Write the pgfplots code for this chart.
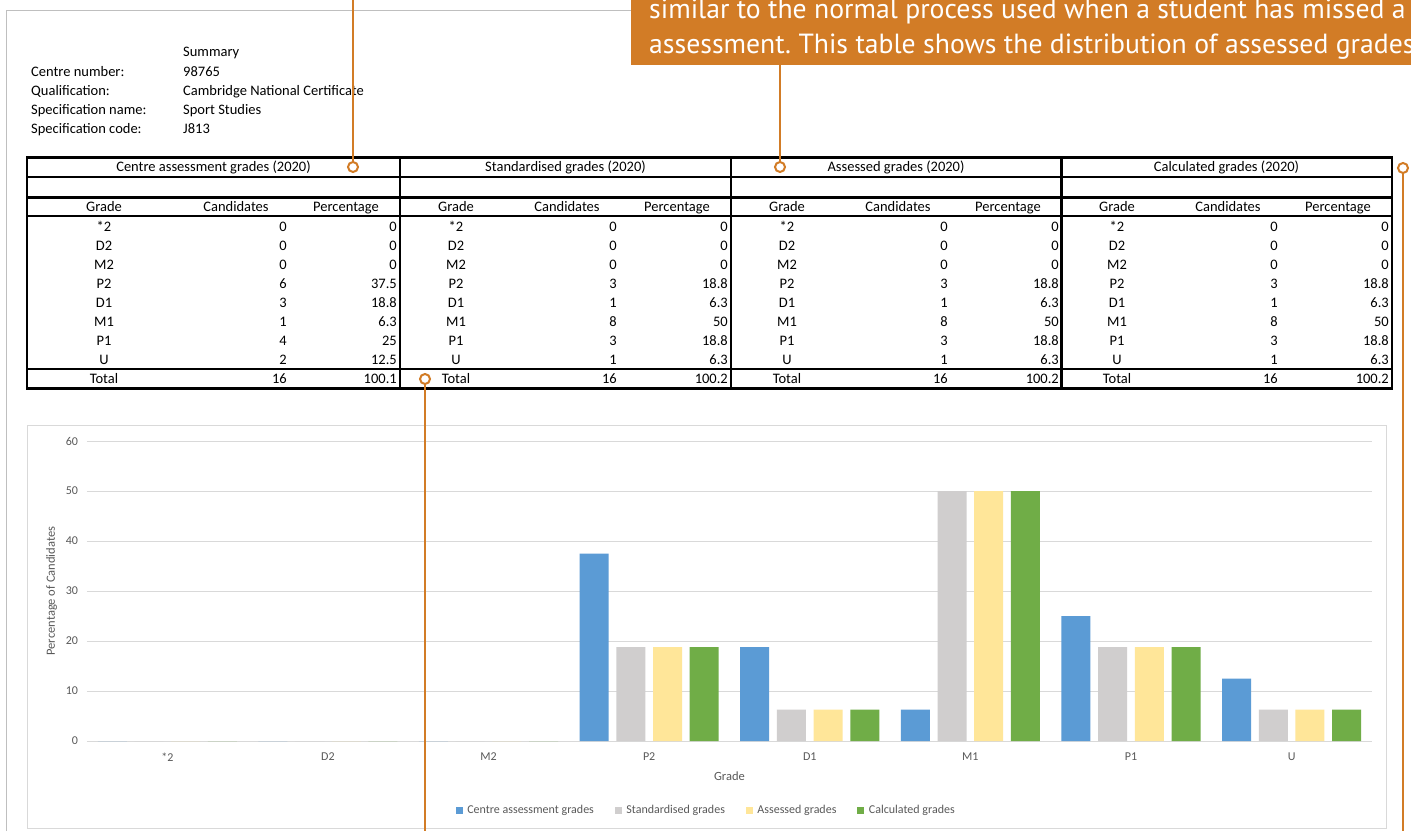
\documentclass[border=0pt]{standalone}
\usepackage{pgfplots}
\pgfplotsset{compat=1.18}
\usepackage{fontspec}
\setmainfont{Carlito}
\newfontfamily\calloutfont{PT Sans}
\definecolor{cblue}{HTML}{5B9BD5}
\definecolor{cgray}{HTML}{D0CECE}
\definecolor{cyellow}{HTML}{FFE699}
\definecolor{cgreen}{HTML}{70AD47}
\definecolor{corange}{HTML}{D27C26}
\definecolor{gridc}{HTML}{D9D9D9}
\definecolor{tickc}{HTML}{595959}
\definecolor{pageb}{HTML}{BFBFBF}
\frenchspacing

\newcommand\Row[6]{%
  \node[anchor=base] at (104,#1+4.7) {#2};
  \node[anchor=base east] at (287,#1+4.7) {#3};
  \node[anchor=base east] at (397,#1+4.7) {#4};
  \foreach \L in {400,731,1061}{%
    \node[anchor=base] at (\L+56,#1+4.7) {#2};
    \node[anchor=base east] at (\L+217,#1+4.7) {#5};
    \node[anchor=base east] at (\L+328,#1+4.7) {#6};
  }}

\begin{document}
\begin{tikzpicture}[x=1pt,y=1pt]
\clip (0,0) rectangle (1411,831);
\fill[white] (0,0) rectangle (1411,831);

\begin{scope}[yshift=831pt, y=-1pt]
  % page border and chart area
  \draw[pageb, line width=1.2pt] (6.5,831) -- (6.5,10.5) -- (640,10.5);
  \draw[gridc, line width=1pt] (27,425.5) rectangle (1386,828.5);
\end{scope}

\begin{axis}[
  at={(87pt,90pt)}, anchor=south west,
  scale only axis, width=1285pt, height=300pt,
  xmin=-0.5, xmax=7.5, ymin=0, ymax=60,
  ybar=7.7pt, bar width=29pt,
  xtick={0,1,2,3,4,5,6,7},
  xticklabels={*2,D2,M2,P2,D1,M1,P1,U},
  ytick={0,10,20,30,40,50,60},
  ymajorgrids, grid style={gridc, line width=1pt},
  axis line style={draw=none}, major tick length=0pt,
  /pgf/number format/assume math mode=true,
  tick label style={font=\fontsize{12}{14}\selectfont, text=tickc},
  yticklabel style={xshift=-5.5pt},
  xticklabel style={yshift=-8pt},
  xlabel={Grade}, ylabel={Percentage of Candidates},
  label style={font=\fontsize{12.5}{14}\selectfont, text=tickc},
  x label style={at={(axis description cs:0.5,-0.117)}, anchor=center},
  y label style={at={(axis description cs:-0.0275,0.5)}, anchor=center},
  legend style={at={(axis description cs:0.482,-0.23)}, anchor=center,
    legend columns=4, draw=none, fill=none,
    font=\fontsize{12}{14}\selectfont, text=tickc,
    /tikz/every odd column/.append style={column sep=2.5pt},
    /tikz/every even column/.append style={column sep=19pt}},
  legend image code/.code={\fill[#1] (0pt,-3.5pt) rectangle (7pt,3.5pt);},
]
\addplot[fill=cblue, draw=none] coordinates {(0,0) (1,0) (2,0) (3,37.5) (4,18.8) (5,6.3) (6,25) (7,12.5)};
\addplot[fill=cgray, draw=none] coordinates {(0,0) (1,0) (2,0) (3,18.8) (4,6.3) (5,50) (6,18.8) (7,6.3)};
\addplot[fill=cyellow, draw=none] coordinates {(0,0) (1,0) (2,0) (3,18.8) (4,6.3) (5,50) (6,18.8) (7,6.3)};
\addplot[fill=cgreen, draw=none] coordinates {(0,0) (1,0) (2,0) (3,18.8) (4,6.3) (5,50) (6,18.8) (7,6.3)};
\legend{Centre assessment grades, Standardised grades, Assessed grades, Calculated grades}
\end{axis}

\begin{scope}[yshift=831pt, y=-1pt, every node/.style={inner sep=0pt, font=\fontsize{14.5}{17}\selectfont}]
  % top-left summary
  \node[anchor=base west] at (183,57) {Summary};
  \node[anchor=base west] at (31,76.5) {Centre number:};
  \node[anchor=base west] at (183,76.5) {98765};
  \node[anchor=base west] at (31,95.5) {Qualification:};
  \node[anchor=base west] at (183,95.5) {Cambridge National Certificate};
  \node[anchor=base west] at (31,115) {Specification name:};
  \node[anchor=base west] at (183,115) {Sport Studies};
  \node[anchor=base west] at (31,134) {Specification code:};
  \node[anchor=base west] at (183,134) {J813};

  % table lines
  \foreach \yy in {157.3,177,197.3,216,369,388.5}
    \draw[black, line width=2.7pt, line cap=rect] (27,\yy) -- (1392,\yy);
  \foreach \xx in {27,400,731,1061.5,1392}
    \draw[black, line width=2.7pt, line cap=rect] (\xx,157.3) -- (\xx,388.5);

  % titles
  \node[anchor=base] at (213.5,172) {Centre assessment grades (2020)};
  \node[anchor=base] at (565.5,172) {Standardised grades (2020)};
  \node[anchor=base] at (896,172) {Assessed grades (2020)};
  \node[anchor=base] at (1226.5,172) {Calculated grades (2020)};

  % headers
  \node[anchor=base] at (104,211.3) {Grade};
  \node[anchor=base] at (236,211.3) {Candidates};
  \node[anchor=base] at (346,211.3) {Percentage};
  \foreach \L in {400,731,1061}{
    \node[anchor=base] at (\L+56,211.3) {Grade};
    \node[anchor=base] at (\L+167,211.3) {Candidates};
    \node[anchor=base] at (\L+277,211.3) {Percentage};
  }

  % data
  \Row{226.6}{*2}{0}{0}{0}{0}
  \Row{245.6}{D2}{0}{0}{0}{0}
  \Row{264.6}{M2}{0}{0}{0}{0}
  \Row{283.6}{P2}{6}{37.5}{3}{18.8}
  \Row{302.6}{D1}{3}{18.8}{1}{6.3}
  \Row{321.6}{M1}{1}{6.3}{8}{50}
  \Row{340.6}{P1}{4}{25}{3}{18.8}
  \Row{359.6}{U}{2}{12.5}{1}{6.3}
  \node[anchor=base] at (104,384) {Total};
  \node[anchor=base east] at (287,384) {16};
  \node[anchor=base east] at (397,384) {100.1};
  \foreach \L in {400,731,1061}{
    \node[anchor=base] at (\L+56,384) {Total};
    \node[anchor=base east] at (\L+217,384) {16};
    \node[anchor=base east] at (\L+328,384) {100.2};
  }

  % orange callouts
  \fill[corange] (631,0) rectangle (1411,65.5);
  \pgfinterruptboundingbox
  \node[anchor=base west, text=white, font=\calloutfont\fontsize{27.7}{32}\selectfont] at (649,19) {similar to the normal process used when a student has missed a};
  \node[anchor=base west, text=white, font=\calloutfont\fontsize{27.7}{32}\selectfont] at (649,54) {assessment. This table shows the distribution of assessed grades};
  \endpgfinterruptboundingbox
  \draw[corange, line width=2pt] (353,0) -- (353,162);
  \draw[corange, line width=2pt] (780,65) -- (780,162);
  \draw[corange, line width=2pt] (1403,173) -- (1403,831);
  \draw[corange, line width=2pt] (425,384) -- (425,831);
  \draw[corange, line width=2pt, fill=white] (353,167) circle[radius=5pt];
  \draw[corange, line width=2pt, fill=white] (780,167) circle[radius=5pt];
  \draw[corange, line width=2pt, fill=white] (1403,168) circle[radius=5pt];
  \draw[corange, line width=2pt, fill=white] (425,379) circle[radius=5pt];
\end{scope}
\end{tikzpicture}
\end{document}
